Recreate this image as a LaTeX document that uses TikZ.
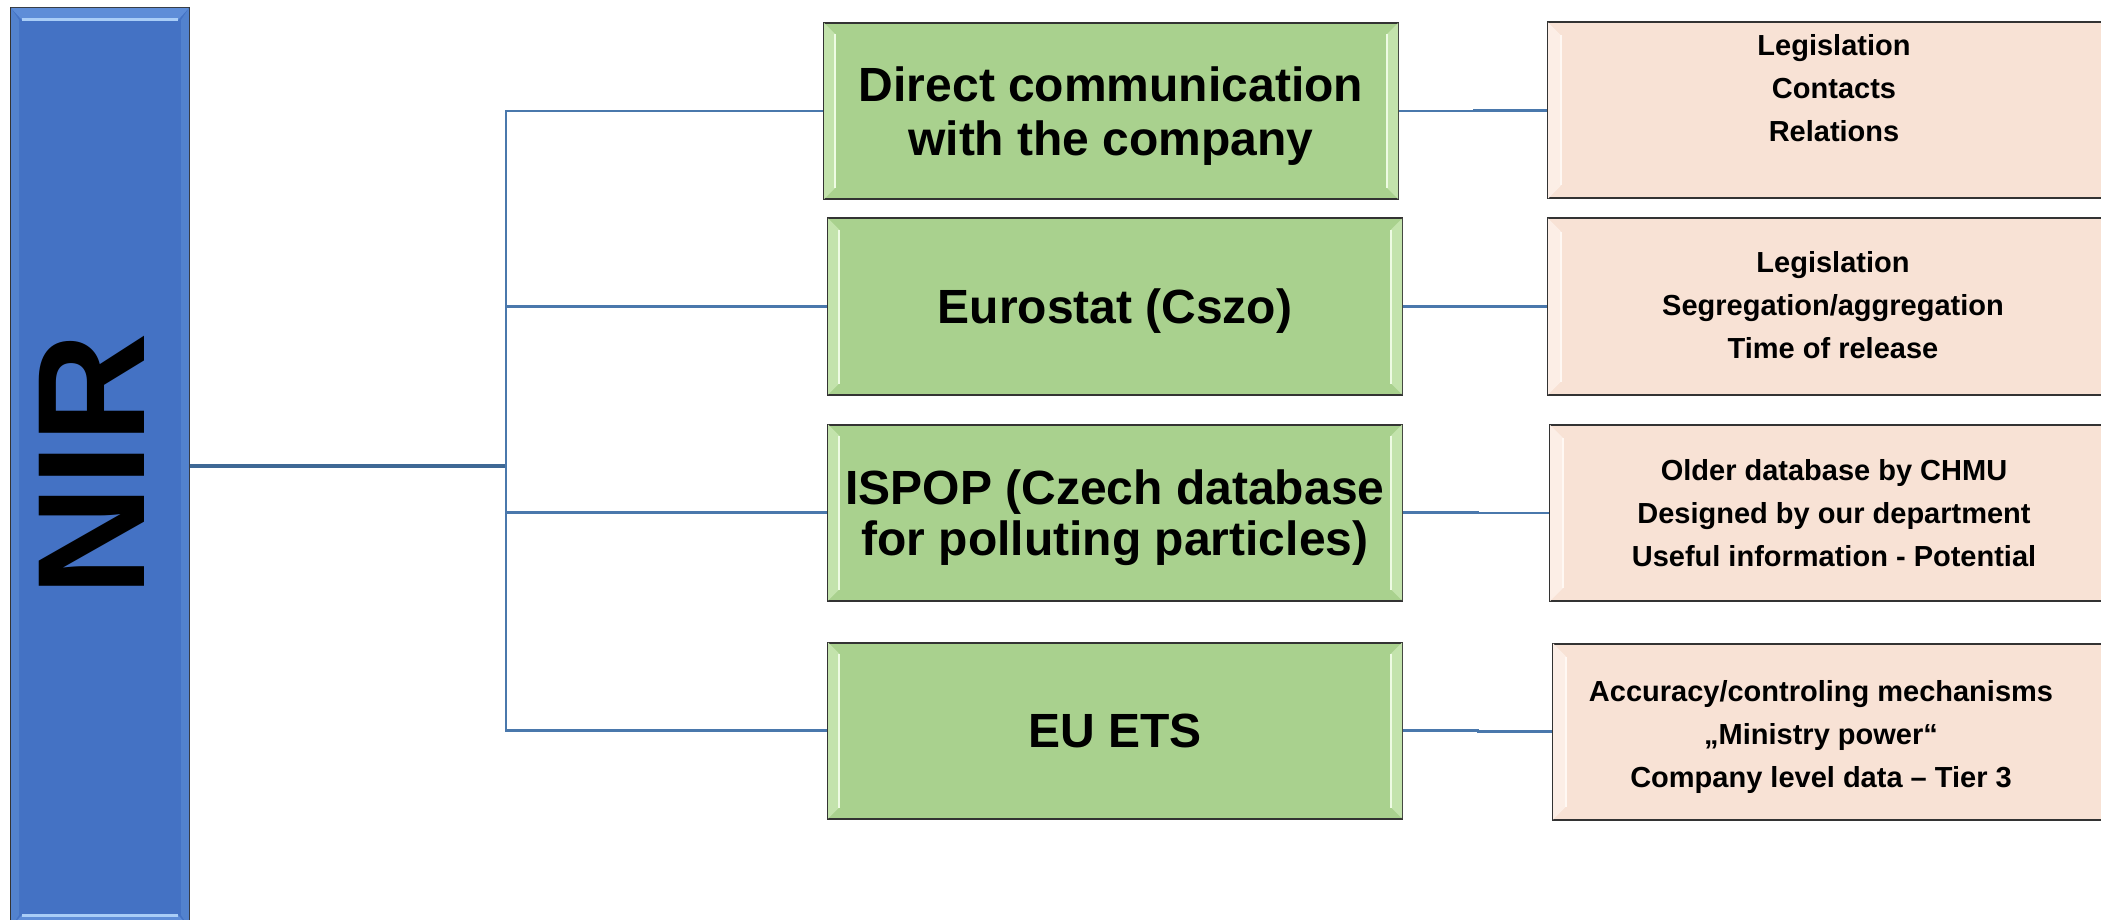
\documentclass[tikz,border=0pt]{standalone}
\usepackage{fontspec}
\setmainfont{Liberation Sans}
\usetikzlibrary{calc}
\definecolor{barblue}{HTML}{4472C4}
\definecolor{barhi}{HTML}{A9CDF7}
\definecolor{barmid}{HTML}{5E8DD8}
\definecolor{barside}{HTML}{5282CE}
\definecolor{boxgreen}{HTML}{A9D18E}
\definecolor{greenstrip}{HTML}{C3E3AC}
\definecolor{greenhi}{HTML}{EEFBE3}
\definecolor{boxpeach}{HTML}{F8E2D5}
\definecolor{peachstrip}{HTML}{FCEEE6}
\definecolor{peachhi}{HTML}{FFF8F3}
\definecolor{edgegrey}{HTML}{333333}
\definecolor{linkblue}{HTML}{4A78AC}
\definecolor{trunkblue}{HTML}{3E6895}
\tikzset{
  barbox/.style={draw=edgegrey, line width=2pt, fill=barblue, minimum width=178pt, minimum height=919pt, inner sep=0pt},
  nirtext/.style={rotate=90, inner sep=0pt, font=\fontsize{153}{160}\selectfont\bfseries, text=black},
  greenbox/.style={draw=edgegrey, line width=2pt, fill=boxgreen, minimum width=574pt, minimum height=176pt, inner sep=0pt, text depth=0pt, font=\fontsize{48}{54}\selectfont\bfseries, align=center, text=black},
  peachbox/.style={draw=edgegrey, line width=2pt, fill=boxpeach, minimum width=570pt, minimum height=176pt, inner sep=0pt},
  peachtext/.style={inner sep=0pt, text depth=0pt, font=\fontsize{29}{43}\selectfont\bfseries, align=center, text=black},
  link/.style={draw=linkblue, line width=2.5pt},
  trunk/.style={draw=trunkblue, line width=4pt},
}
\newcommand\leftbevel[4]{%
  \fill[#2] ($(#1.north west)+(1,1)$) -- ($(#1.north west)+(1+#4,1+#4)$) -- ($(#1.south west)+(1+#4,-1-#4)$) -- ($(#1.south west)+(1,-1)$) -- cycle;
  \draw[#3, line width=2pt] ($(#1.north west)+(1+#4,1+#4)$) -- ($(#1.south west)+(1+#4,-1-#4)$);
}
\newcommand\rightbevel[4]{%
  \fill[#2] ($(#1.north east)+(-1,1)$) -- ($(#1.north east)+(-1-#4,1+#4)$) -- ($(#1.south east)+(-1-#4,-1-#4)$) -- ($(#1.south east)+(-1,-1)$) -- cycle;
  \draw[#3, line width=2pt] ($(#1.north east)+(-1-#4,1+#4)$) -- ($(#1.south east)+(-1-#4,-1-#4)$);
}
\begin{document}
\begin{tikzpicture}[x=1pt,y=-1pt]
\useasboundingbox (0,0) rectangle (2101,920);
\clip (0,0) rectangle (2101,920);
\fill[white] (0,0) rectangle (2101,920);

% left bar
\node[barbox] (bar) at (100,467.5) {};
\fill[barside] ($(bar.north west)+(1,1)$) -- ($(bar.north west)+(9,13)$) -- ($(bar.south west)+(9,-13)$) -- ($(bar.south west)+(1,-1)$) -- cycle;
\fill[barside] ($(bar.north east)+(-1,1)$) -- ($(bar.north east)+(-9,13)$) -- ($(bar.south east)+(-9,-13)$) -- ($(bar.south east)+(-1,-1)$) -- cycle;
\fill[barmid] ($(bar.north west)+(1,1)$) -- ($(bar.north east)+(-1,1)$) -- ($(bar.north east)+(-12,13)$) -- ($(bar.north west)+(12,13)$) -- cycle;
\draw[barhi, line width=3pt] ($(bar.north west)+(12,13)$) -- ($(bar.north east)+(-12,13)$);
\fill[barmid] ($(bar.south west)+(1,-1)$) -- ($(bar.south east)+(-1,-1)$) -- ($(bar.south east)+(-12,-13)$) -- ($(bar.south west)+(12,-13)$) -- cycle;
\draw[barhi, line width=3pt] ($(bar.south west)+(12,-13)$) -- ($(bar.south east)+(-12,-13)$);
\node[nirtext] (nir) at (92,465) {NIR};

% green boxes
\node[greenbox] (g1) at (1111,111) {};
\node[greenbox] (g2) at (1115,306.5) {};
\node[greenbox] (g3) at (1115,512.5) {};
\node[greenbox] (g4) at (1115,730.5) {};
\foreach \g in {g1,g2,g3,g4}{
  \leftbevel{\g}{greenstrip}{greenhi}{11}
  \rightbevel{\g}{greenstrip}{greenhi}{11}
}
\node[greenbox, fill=none, draw=none] (g1t) at (g1) {Direct communication\\with the company};
\node[greenbox, fill=none, draw=none] (g2t) at (g2) {Eurostat (Cszo)};
\node[greenbox, fill=none, draw=none, font=\fontsize{48}{51}\selectfont\bfseries] (g3t) at (g3) {ISPOP (Czech database\\for polluting particles)};
\node[greenbox, fill=none, draw=none] (g4t) at (g4) {EU ETS};

% peach boxes
\node[peachbox] (p1) at (1833,110.5) {};
\node[peachbox] (p2) at (1833,306.5) {};
\node[peachbox] (p3) at (1835,513) {};
\node[peachbox] (p4) at (1838,731.5) {};
\foreach \p in {p1,p2,p3,p4}{
  \leftbevel{\p}{peachstrip}{peachhi}{13}
}
\node[peachtext] (t1) at (1834,88) {Legislation\\Contacts\\Relations};
\node[peachtext] (t2) at (1833,305) {Legislation\\Segregation/aggregation\\Time of release};
\node[peachtext] (t3) at (1834,513) {Older database by CHMU\\Designed by our department\\Useful information - Potential};
\node[peachtext] (t4) at (1821,734) {Accuracy/controling mechanisms\\„Ministry power“\\Company level data – Tier 3};

% connectors
\coordinate (hub) at (506,466);
\draw[trunk] (bar.east |- hub) -- (hub);
\draw[link] (g1.west) -- (g1.west -| hub) -- (g4.west -| hub) -- (g4.west);
\draw[link] (g2.west) -- (g2.west -| hub);
\draw[link] (g3.west) -- (g3.west -| hub);
\draw[link] (g1.east) -- ++(75,0) |- (p1.west);
\draw[link] (g2.east) -- ++(75,0) |- (p2.west);
\draw[link] (g3.east) -- ++(75,0) |- (p3.west);
\draw[link] (g4.east) -- ++(75,0) |- (p4.west);
\end{tikzpicture}
\end{document}
